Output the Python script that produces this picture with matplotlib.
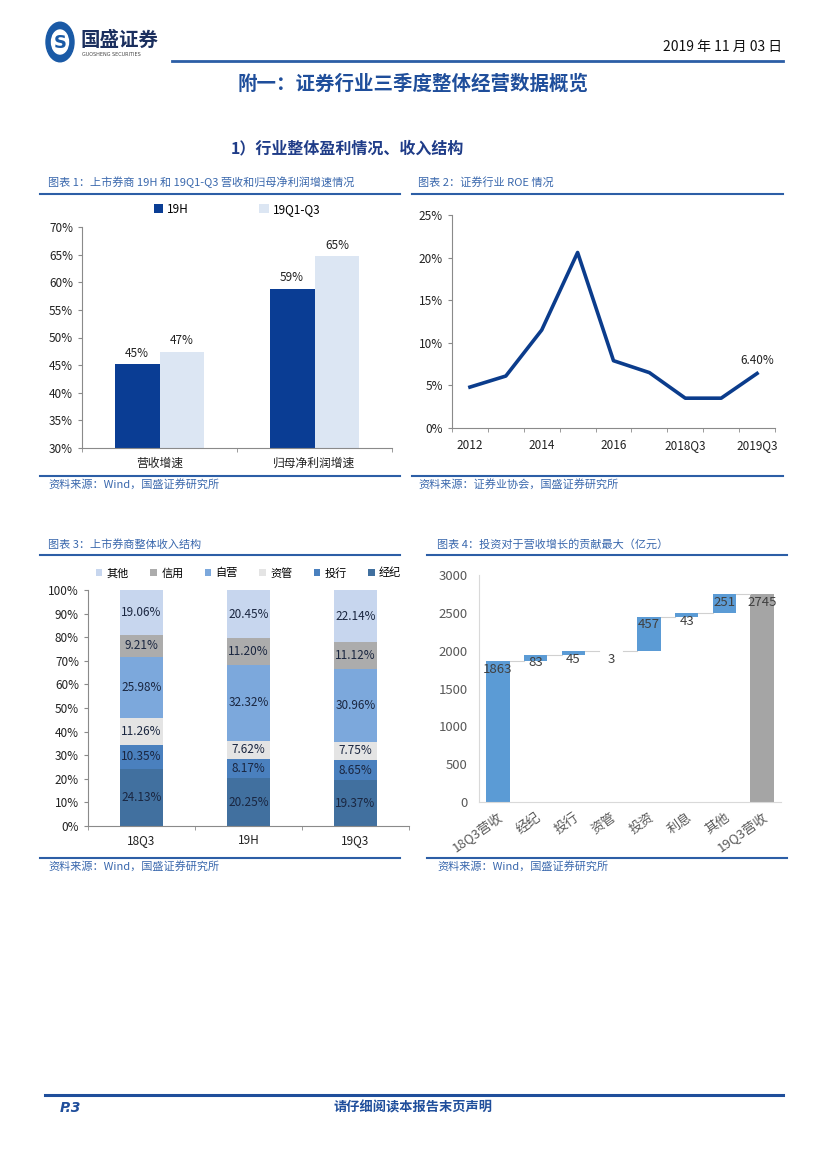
import matplotlib
matplotlib.use("Agg")
import matplotlib.pyplot as plt
import numpy as np
from matplotlib.patches import Circle

plt.rcParams['font.family'] = ['Noto Sans CJK SC', 'DejaVu Sans']

W, H = 827, 1169

# ---- data ----
c1_cats = ['营收增速', '归母净利润增速']
c1_19h = [0.452, 0.588]
c1_19q = [0.474, 0.647]
c1_lab_19h = ['45%', '59%']
c1_lab_19q = ['47%', '65%']

c2_cats = ['2012', '2013', '2014', '2015', '2016', '2017', '2018Q3', '2018', '2019Q3']
c2_roe = [0.048, 0.061, 0.115, 0.206, 0.079, 0.065, 0.035, 0.035, 0.064]

c3_cats = ['18Q3', '19H', '19Q3']
c3_names = ['经纪', '投行', '资管', '自营', '信用', '其他']
c3_vals = {
    '经纪': [24.13, 20.25, 19.37],
    '投行': [10.35, 8.17, 8.65],
    '资管': [11.26, 7.62, 7.75],
    '自营': [25.98, 32.32, 30.96],
    '信用': [9.21, 11.20, 11.12],
    '其他': [19.06, 20.45, 22.14],
}
c3_colors = {'经纪': '#41709f', '投行': '#4a80be', '资管': '#e4e4e4',
             '自营': '#7ca8dc', '信用': '#acacac', '其他': '#c7d6ee'}

c4_cats = ['18Q3营收', '经纪', '投行', '资管', '投资', '利息', '其他', '19Q3营收']
c4_vals = [1863, 83, 45, 3, 457, 43, 251, 2745]

BLUE = '#1f4e9b'
CAP = '#3a68ad'


def ax_px(fig, x0, y0, x1, y1):
    return fig.add_axes([x0 / W, 1 - y1 / H, (x1 - x0) / W, (y1 - y0) / H])


def ftext(fig, x, y, s, **kw):
    fig.text(x / W, 1 - y / H, s, **kw)


def fline(fig, x0, x1, y, lw=1.5, color='#2c5ea6'):
    fig.add_artist(plt.Line2D([x0 / W, x1 / W], [1 - y / H, 1 - y / H],
                              color=color, lw=lw))


def style_ax(ax):
    for s in ['top', 'right']:
        ax.spines[s].set_visible(False)
    for s in ['left', 'bottom']:
        ax.spines[s].set_color('#8a8a8a')
        ax.spines[s].set_linewidth(0.8)
    ax.tick_params(colors='#8a8a8a', labelcolor='#222222', labelsize=8.5,
                   length=3, width=0.8)


fig = plt.figure(figsize=(W / 100, H / 100), dpi=100)

# ---- header ----
fig.add_artist(Circle((60 / W, 1 - 42 / H), 14 / W, transform=fig.transFigure,
                      color='#1a5aa6'))
fig.add_artist(Circle((60 / W, 1 - 42 / H), 8.5 / W, transform=fig.transFigure,
                      color='white'))
ftext(fig, 60, 43, 'S', fontsize=13, fontweight='bold', color='#1a5aa6',
      ha='center', va='center', family='DejaVu Sans')
ftext(fig, 80, 40, '国盛证券', fontsize=14, fontweight='bold', color='#1b2f5e',
      va='center')
ftext(fig, 82, 55, 'GUOSHENG SECURITIES', fontsize=3.5, color='#444444',
      va='center', family='DejaVu Sans')
ftext(fig, 782, 47, '2019 年 11 月 03 日', fontsize=10, color='#111111',
      ha='right', va='center')
fline(fig, 172, 783, 61, lw=2.0)
ftext(fig, 413, 84, '附一：证券行业三季度整体经营数据概览', fontsize=14,
      fontweight='bold', color=BLUE, ha='center', va='center')
ftext(fig, 347, 148, '1）行业整体盈利情况、收入结构', fontsize=11.5,
      fontweight='bold', color='#1f3c88', ha='center', va='center')

# captions and source lines
ftext(fig, 48, 182, '图表 1：上市券商 19H 和 19Q1-Q3 营收和归母净利润增速情况',
      fontsize=8, color=CAP, style='italic', va='center')
ftext(fig, 418, 182, '图表 2：证券行业 ROE 情况', fontsize=8, color=CAP,
      style='italic', va='center')
fline(fig, 40, 400, 194)
fline(fig, 412, 783, 194)
fline(fig, 40, 400, 476)
fline(fig, 412, 783, 476)
ftext(fig, 48, 484, '资料来源：Wind，国盛证券研究所', fontsize=8, color=CAP,
      style='italic', va='center')
ftext(fig, 418, 484, '资料来源：证券业协会，国盛证券研究所', fontsize=8,
      color=CAP, style='italic', va='center')

ftext(fig, 48, 544, '图表 3：上市券商整体收入结构', fontsize=8, color=CAP,
      style='italic', va='center')
ftext(fig, 437, 544, '图表 4：投资对于营收增长的贡献最大（亿元）', fontsize=8,
      color=CAP, style='italic', va='center')
fline(fig, 40, 400, 555)
fline(fig, 427, 787, 555)
fline(fig, 40, 400, 858)
fline(fig, 427, 787, 858)
ftext(fig, 48, 866, '资料来源：Wind，国盛证券研究所', fontsize=8, color=CAP,
      style='italic', va='center')
ftext(fig, 437, 866, '资料来源：Wind，国盛证券研究所', fontsize=8, color=CAP,
      style='italic', va='center')

# footer
fline(fig, 45, 783, 1095, lw=2.2, color='#1f4e9b')
ftext(fig, 60, 1108, 'P.3', fontsize=10, fontweight='bold', style='italic',
      color=BLUE, va='center', family='DejaVu Sans')
ftext(fig, 413, 1108, '请仔细阅读本报告末页声明', fontsize=9.5, fontweight='bold',
      color=BLUE, ha='center', va='center')

# ---- chart 1 ----
ax1 = ax_px(fig, 82, 227, 392, 448)
x = np.arange(len(c1_cats))
bw = 0.29
b1 = ax1.bar(x - bw / 2, c1_19h, bw, color='#0a3d94', label='19H')
b2 = ax1.bar(x + bw / 2, c1_19q, bw, color='#dce6f3', label='19Q1-Q3')
for r, t in zip(b1, c1_lab_19h):
    ax1.text(r.get_x() + r.get_width() / 2, r.get_height() + 0.008, t,
             ha='center', va='bottom', fontsize=8.5, color='#222222')
for r, t in zip(b2, c1_lab_19q):
    ax1.text(r.get_x() + r.get_width() / 2, r.get_height() + 0.008, t,
             ha='center', va='bottom', fontsize=8.5, color='#222222')
ax1.set_ylim(0.30, 0.70)
ax1.set_xlim(-0.5, 1.5)
ax1.set_yticks(np.arange(0.30, 0.701, 0.05))
ax1.set_yticklabels(['{:.0f}%'.format(v * 100) for v in np.arange(0.30, 0.701, 0.05)])
ax1.set_xticks(x)
ax1.set_xticklabels(c1_cats)
ax1.set_xticks([-0.5, 0.5, 1.5], minor=True)
style_ax(ax1)
ax1.tick_params(axis='x', which='major', length=0, pad=6)
ax1.tick_params(axis='x', which='minor', length=3, colors='#8a8a8a')
ax1.legend(loc='lower center', bbox_to_anchor=(0.5, 1.03), ncol=2, frameon=False,
           fontsize=8.5, handlelength=0.8, handleheight=0.8, columnspacing=6,
           handletextpad=0.3, borderaxespad=0)

# ---- chart 2 ----
ax2 = ax_px(fig, 452, 215, 775, 428)
x2 = np.arange(len(c2_cats))
ax2.plot(x2, c2_roe, color='#0b3c8c', lw=2.6, solid_joinstyle='round')
ax2.text(x2[-1], c2_roe[-1] + 0.008, '{:.2f}%'.format(c2_roe[-1] * 100),
         ha='center', va='bottom', fontsize=8.5, color='#222222')
ax2.set_xlim(-0.5, len(c2_cats) - 0.5)
ax2.set_ylim(0, 0.25)
ax2.set_yticks(np.arange(0, 0.251, 0.05))
ax2.set_yticklabels(['{:.0f}%'.format(v * 100) for v in np.arange(0, 0.251, 0.05)])
ax2.set_xticks(x2[::2])
ax2.set_xticklabels(c2_cats[::2])
ax2.set_xticks(np.arange(-0.5, len(c2_cats), 1.0), minor=True)
style_ax(ax2)
ax2.tick_params(axis='x', which='major', length=0, pad=8)
ax2.tick_params(axis='x', which='minor', length=3, colors='#8a8a8a')

# ---- chart 3 ----
ax3 = ax_px(fig, 88, 590, 409, 826)
x3 = np.arange(len(c3_cats))
bottom = np.zeros(len(c3_cats))
handles = {}
for name in c3_names:
    vals = np.array(c3_vals[name]) / 100
    bars = ax3.bar(x3, vals, 0.4, bottom=bottom, color=c3_colors[name],
                   label=name)
    handles[name] = bars
    for xi, v, b in zip(x3, vals, bottom):
        ax3.text(xi, b + v / 2, '{:.2f}%'.format(v * 100), ha='center',
                 va='center', fontsize=8.5, color='#1a2640')
    bottom = bottom + vals
ax3.set_ylim(0, 1)
ax3.set_xlim(-0.5, 2.5)
ax3.set_yticks(np.arange(0, 1.001, 0.1))
ax3.set_yticklabels(['{:.0f}%'.format(v * 100) for v in np.arange(0, 1.001, 0.1)])
ax3.set_xticks(x3)
ax3.set_xticklabels(c3_cats)
ax3.set_xticks([-0.5, 0.5, 1.5, 2.5], minor=True)
style_ax(ax3)
ax3.tick_params(axis='x', which='major', length=0, pad=6)
ax3.tick_params(axis='x', which='minor', length=3, colors='#8a8a8a')
leg_order = ['其他', '信用', '自营', '资管', '投行', '经纪']
ax3.legend([handles[n] for n in leg_order], leg_order, loc='lower center',
           bbox_to_anchor=(0.5, 1.03), ncol=6, frameon=False, fontsize=8,
           handlelength=0.6, handleheight=0.6, columnspacing=1.9,
           handletextpad=0.4, borderaxespad=0)

# ---- chart 4 (waterfall) ----
ax4 = ax_px(fig, 479, 575, 781, 802)
x4 = np.arange(len(c4_cats))
bottoms4 = []
run = 0
for i, v in enumerate(c4_vals):
    if i == 0 or i == len(c4_vals) - 1:
        bottoms4.append(0)
        run = v
    else:
        bottoms4.append(run)
        run += v
colors4 = ['#5b9bd5'] * (len(c4_vals) - 1) + ['#a5a5a5']
ax4.bar(x4, c4_vals, 0.62, bottom=bottoms4, color=colors4)
tops4 = [b + v for b, v in zip(bottoms4, c4_vals)]
for i in range(len(c4_vals) - 1):
    ax4.plot([x4[i] + 0.31, x4[i + 1] - 0.31], [tops4[i], tops4[i]],
             color='#d0d0d0', lw=0.8)
for i, v in enumerate(c4_vals):
    ax4.text(x4[i], tops4[i] - 20, str(v), ha='center', va='top',
             fontsize=9.5, color='#404040')
ax4.set_ylim(0, 3000)
ax4.set_xlim(-0.5, len(c4_cats) - 0.5)
ax4.set_yticks(np.arange(0, 3001, 500))
ax4.set_xticks(x4)
ax4.set_xticklabels(c4_cats, rotation=35, ha='right', rotation_mode='anchor')
for s in ['top', 'right']:
    ax4.spines[s].set_visible(False)
for s in ['left', 'bottom']:
    ax4.spines[s].set_color('#d9d9d9')
    ax4.spines[s].set_linewidth(0.8)
ax4.tick_params(length=0, labelsize=9.5, labelcolor='#595959')
ax4.tick_params(axis='y', pad=8)
ax4.tick_params(axis='x', pad=6)

fig.savefig('out.png', dpi=100)
